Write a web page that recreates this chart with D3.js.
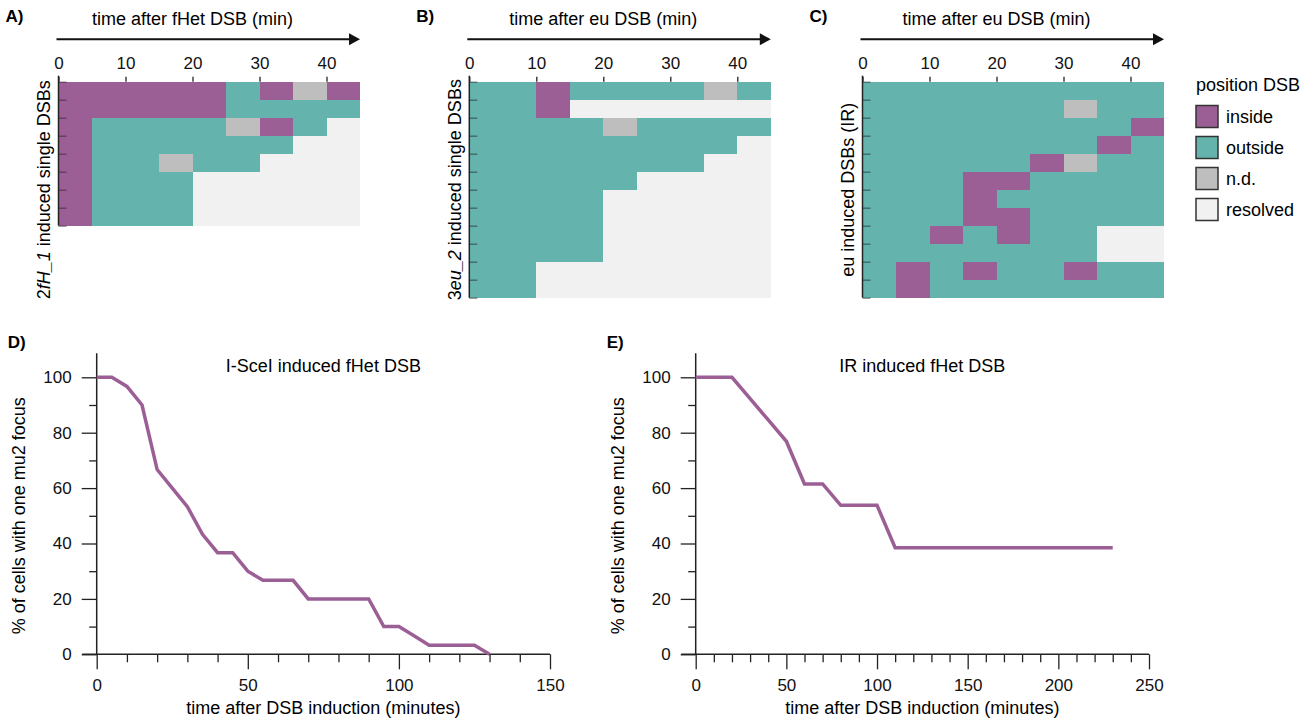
<!DOCTYPE html>
<meta charset="utf-8">
<style>
  body { margin: 0; background: #fff; }
  svg { font-family: "Liberation Sans", Arial, sans-serif; }
  .axis line, .axis path { stroke: #222; stroke-width: 1.3; }
  .axis text { font-size: 17px; fill: #111; }
</style>
<svg width="1309" height="726"></svg>
<script src="https://cdn.jsdelivr.net/npm/d3@7"></script>
<script>

// position states of the DSB per 5 min bin
var states = ["inside", "outside", "n.d.", "resolved"];
var stateCodes = ["I", "O", "N", "R"];
var stateColors = ["#9b5f96", "#64b3ac", "#bebebe", "#f1f1f1"];
var binStarts = [0, 5, 10, 15, 20, 25, 30, 35, 40];
var heatTicks = [0, 10, 20, 30, 40];

// one string per cell, one letter per bin
var cellsA = ["IIIIIOINI", "IIIIIOOOO", "IOOOONIOR", "IOOOOOORR",
              "IOONOORRR", "IOOORRRRR", "IOOORRRRR", "IOOORRRRR"];
var cellsB = ["OOIOOOONO", "OOIRRRRRR", "OOOONOOOO", "OOOOOOOOR",
              "OOOOOOORR", "OOOOORRRR", "OOOORRRRR", "OOOORRRRR",
              "OOOORRRRR", "OOOORRRRR", "OORRRRRRR", "OORRRRRRR"];
var cellsC = ["OOOOOOOOO", "OOOOOONOO", "OOOOOOOOI", "OOOOOOOIO",
              "OOOOOINOO", "OOOIIOOOO", "OOOIOOOOO", "OOOIIOOOO",
              "OOIOIOORR", "OOOOOOORR", "OIOIOOIOO", "OIOOOOOOO"];

// % of cells with one mu2 focus
var timeD = [0, 5, 10, 15, 20, 25, 30, 35, 40, 45, 50, 55, 60, 65, 70, 75, 80, 85, 90, 95, 100, 105, 110, 115, 120, 125, 130];
var pctD = [100, 100, 96.7, 90, 66.7, 60, 53.3, 43.3, 36.7, 36.7, 30, 26.7, 26.7, 26.7, 20, 20, 20, 20, 20, 10, 10, 6.7, 3.3, 3.3, 3.3, 3.3, 0];
var timeE = [0, 10, 20, 30, 40, 50, 60, 70, 80, 90, 100, 110, 120, 130, 140, 150, 160, 170, 180, 190, 200, 210, 220, 230];
var pctE = [100, 100, 100, 92.3, 84.6, 76.9, 61.5, 61.5, 53.8, 53.8, 53.8, 38.5, 38.5, 38.5, 38.5, 38.5, 38.5, 38.5, 38.5, 38.5, 38.5, 38.5, 38.5, 38.5];

var svg = d3.select("svg");
var purple = stateColors[0];
var colorOf = d3.scaleOrdinal(stateCodes, stateColors);

var rowH = 18, heatTop = 81.7, pxPerMin = 6.7;

function heatmap(cfg) {
  var g = svg.append("g");
  var x = d3.scaleLinear().domain([0, 45]).range([cfg.left, cfg.left + 45 * pxPerMin]);
  var n = cfg.cells.length;
  var y = d3.scaleLinear().domain([0, n]).range([heatTop, heatTop + n * rowH]);

  var rows = g.selectAll(".row").data(cfg.cells).enter().append("g");
  rows.selectAll("rect")
    .data(function(s, i) { return s.split("").map(function(c, j) { return {row: i, t: binStarts[j], c: c}; }); })
    .enter().append("rect")
      .attr("x", function(d) { return x(d.t); })
      .attr("width", function(d) { return x(d.t + 5) - x(d.t) + 0.4; })
      .attr("y", function(d) { return y(d.row); })
      .attr("height", rowH + 0.4)
      .attr("fill", function(d) { return colorOf(d.c); })
      .attr("shape-rendering", "crispEdges");

  // top axis
  var gx = g.append("g").attr("class", "axis")
      .attr("transform", "translate(0," + heatTop + ")")
      .call(d3.axisTop(x).tickValues(heatTicks).tickSize(5).tickPadding(8));
  gx.select(".domain").remove();

  // left axis, ticks point inward
  var gy = g.append("g").attr("class", "axis")
      .attr("transform", "translate(" + cfg.left + ",0)")
      .call(d3.axisLeft(y).tickValues(d3.range(n + 1)).tickSize(-8).tickFormat(""));
  gy.select(".domain").remove();
  gy.selectAll(".tick line").attr("stroke-opacity", 0.55);
  g.append("line").attr("x1", cfg.left).attr("x2", cfg.left)
    .attr("y1", heatTop - 6).attr("y2", y(n))
    .attr("stroke", "#222").attr("stroke-width", 1.5);

  // arrow
  g.append("line").attr("x1", x(0) - 2).attr("x2", x(45) - 8)
    .attr("y1", 39.3).attr("y2", 39.3).attr("stroke", "#111").attr("stroke-width", 2);
  g.append("path")
    .attr("d", "M" + (x(45) - 11) + "," + (39.3 - 6) + "L" + x(45) + "," + 39.3 + "L" + (x(45) - 11) + "," + (39.3 + 6) + "Z")
    .attr("fill", "#111");

  g.append("text").attr("x", x(20)).attr("y", 25).attr("text-anchor", "middle")
    .style("font-size", "18px").text(cfg.title);

  var yl = g.append("text")
    .attr("transform", "translate(" + (cfg.left - 15) + "," + (heatTop + 6 * rowH) + ") rotate(-90)")
    .attr("text-anchor", "middle").attr("dy", "0.35em").style("font-size", "18px");
  cfg.ylabel.forEach(function(p) {
    yl.append("tspan").style("font-style", p[1] ? "italic" : "normal").text(p[0]);
  });

  svg.append("text").attr("x", cfg.left - 53).attr("y", 21.7)
    .style("font-size", "17px").style("font-weight", "bold").text(cfg.tag);
}

heatmap({tag: "A)", left: 58.5, cells: cellsA, title: "time after fHet DSB (min)",
  ylabel: [["2", false], ["fH_1", true], [" induced single DSBs", false]]});
heatmap({tag: "B)", left: 469.3, cells: cellsB, title: "time after eu DSB (min)",
  ylabel: [["3", false], ["eu_2", true], [" induced single DSBs", false]]});
heatmap({tag: "C)", left: 862.5, cells: cellsC, title: "time after eu DSB (min)",
  ylabel: [["eu induced DSBs (IR)", false]]});

// legend
var leg = svg.append("g").attr("transform", "translate(1196,0)");
leg.append("text").attr("x", 0).attr("y", 90.5).style("font-size", "18px").text("position DSB");
var li = leg.selectAll(".li").data(states).enter().append("g")
    .attr("transform", function(d, i) { return "translate(0," + (105.5 + i * 31) + ")"; });
li.append("rect").attr("width", 22).attr("height", 22)
  .attr("fill", function(d, i) { return stateColors[i]; })
  .attr("stroke", "#333").attr("stroke-width", 1.5);
li.append("text").attr("x", 30).attr("y", 11).attr("dy", "0.35em")
  .style("font-size", "18px").text(function(d) { return d; });

// line charts
function lineChart(cfg) {
  var g = svg.append("g");
  var x = d3.scaleLinear().domain([0, cfg.xMax]).range([cfg.left, cfg.left + 453.3]);
  var y = d3.scaleLinear().domain([0, 100]).range([654.3, 377.3]);

  var gx = g.append("g").attr("class", "axis").attr("transform", "translate(0," + y(0) + ")")
      .call(d3.axisBottom(x).tickValues(d3.range(0, cfg.xMax + 1, 10)).tickSize(8)
        .tickFormat(function(d) { return d % 50 === 0 ? d : ""; }));
  gx.select(".domain").remove();
  gx.selectAll(".tick line").attr("y2", function(d) { return d % 50 === 0 ? 15 : 8; });
  gx.selectAll(".tick text").attr("y", 25);

  var gy = g.append("g").attr("class", "axis").attr("transform", "translate(" + cfg.left + ",0)")
      .call(d3.axisLeft(y).tickValues(d3.range(0, 101, 10)).tickSize(7.5)
        .tickFormat(function(d) { return d % 20 === 0 ? d : ""; }));
  gy.select(".domain").remove();
  gy.selectAll(".tick line").attr("x2", function(d) { return d % 20 === 0 ? -15 : -7.5; });
  gy.selectAll(".tick text").attr("x", -25);

  g.append("line").attr("x1", x(0) - 14.5).attr("x2", x(cfg.xMax))
    .attr("y1", y(0)).attr("y2", y(0)).attr("stroke", "#222").attr("stroke-width", 1.5);
  g.append("line").attr("x1", x(0)).attr("x2", x(0))
    .attr("y1", y(108.7)).attr("y2", y(0)).attr("stroke", "#222").attr("stroke-width", 1.5);

  g.append("path")
    .datum(cfg.t.map(function(t, i) { return [t, cfg.v[i]]; }))
    .attr("fill", "none").attr("stroke", purple).attr("stroke-width", 3.5)
    .attr("d", d3.line().x(function(d) { return x(d[0]); }).y(function(d) { return y(d[1]); }));

  g.append("text").attr("x", x(cfg.xMax / 2)).attr("y", 371.5).attr("text-anchor", "middle")
    .style("font-size", "18px").text(cfg.title);
  g.append("text").attr("x", x(cfg.xMax / 2)).attr("y", 714).attr("text-anchor", "middle")
    .style("font-size", "18px").text("time after DSB induction (minutes)");
  g.append("text")
    .attr("transform", "translate(" + (cfg.left - 78) + "," + y(50) + ") rotate(-90)")
    .attr("text-anchor", "middle").attr("dy", "0.35em")
    .style("font-size", "18px").text("% of cells with one mu2 focus");

  svg.append("text").attr("x", cfg.left - 89).attr("y", 348)
    .style("font-size", "17px").style("font-weight", "bold").text(cfg.tag);
}

lineChart({tag: "D)", left: 96.7, xMax: 150, t: timeD, v: pctD, title: "I-SceI induced fHet DSB"});
lineChart({tag: "E)", left: 695.7, xMax: 250, t: timeE, v: pctE, title: "IR induced fHet DSB"});

</script>
